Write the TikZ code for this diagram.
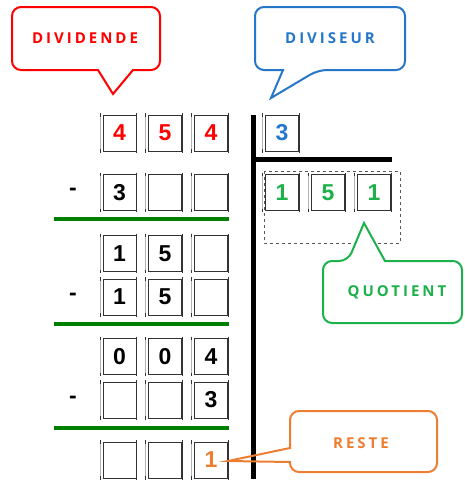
\documentclass[tikz,border=0pt]{standalone}
\usepackage{fontspec}
\setmainfont{Liberation Sans}
\newfontfamily\callfont[LetterSpace=20]{Open Sans}
\definecolor{cred}{HTML}{FF0000}
\definecolor{cblue}{HTML}{2677C9}
\definecolor{cgreen}{HTML}{1DB14B}
\definecolor{dgreen}{HTML}{008000}
\definecolor{corange}{HTML}{ED7D31}
\definecolor{boxgray}{HTML}{333333}
\tikzset{
  digitbox/.style={draw=boxgray,line width=0.9pt,minimum width=33pt,minimum height=36pt,inner sep=0pt,
    font=\fontsize{23}{23}\selectfont\bfseries,
    append after command={
      \pgfextra{\draw[gray!60,line width=0.8pt] ([xshift=-2.5pt]\tikzlastnode.north west) -- ([xshift=-2.5pt]\tikzlastnode.south west);
      \draw[boxgray,line width=0.9pt] ([xshift=-2.5pt,yshift=1.5pt]\tikzlastnode.north west) -- ([xshift=-2.5pt,yshift=-2pt]\tikzlastnode.north west);
      \draw[boxgray,line width=0.9pt] ([xshift=-2.5pt,yshift=2pt]\tikzlastnode.south west) -- ([xshift=-2.5pt,yshift=-1.5pt]\tikzlastnode.south west);
      \draw[boxgray,line width=0.9pt] ([yshift=1.5pt]\tikzlastnode.north east) -- ([yshift=-1.5pt]\tikzlastnode.south east);}
    }},
  minus/.style={font=\fontsize{23}{23}\selectfont\bfseries,inner sep=0pt},
  greenline/.style={dgreen,line width=4pt},
  divline/.style={black,line width=5pt},
  callout/.style={line width=2pt},
  calltext/.style={font=\callfont\bfseries\fontsize{15}{15}\selectfont,inner sep=0pt}
}
\begin{document}
\begin{tikzpicture}[x=1pt,y=-1pt]
\useasboundingbox (0,0) rectangle (464,480);
% callouts
\draw[callout,cred,fill=white,rounded corners=9] (12,7) -- (160,7) -- (160,70) [sharp corners]-- (133,70) -- (113,94) -- (98,70) [rounded corners=9]-- (12,70) -- cycle;
\node[calltext,text=cred] (tdividende) at (85,38) {DIVIDENDE};
\draw[callout,cblue,fill=white,rounded corners=9] (255,7) -- (405,7) -- (405,70) -- (318,70) [sharp corners]-- (271,98) -- (283,70) [rounded corners=9]-- (255,70) -- cycle;
\node[calltext,text=cblue] (tdiviseur) at (330,38) {DIVISEUR};
% division lines
\coordinate (vtop) at (253,115);
\coordinate (vbot) at (253,479);
\coordinate (hleft) at (250.5,159);
\coordinate (hright) at (392,159);
\draw[divline] (vtop) -- (vbot);
\draw[divline] (hleft) -- (hright);
% green lines
\coordinate (g1a) at (54,219); \coordinate (g1b) at (229,219);
\coordinate (g2a) at (54,324); \coordinate (g2b) at (229,324);
\coordinate (g3a) at (54,428); \coordinate (g3b) at (229,428);
\draw[greenline] (g1a) -- (g1b);
\draw[greenline] (g2a) -- (g2b);
\draw[greenline] (g3a) -- (g3b);
% rows
\node[digitbox,text=cred] (a1) at (119.5,133) {4};
\node[digitbox,text=cred] (a2) at (165,133) {5};
\node[digitbox,text=cred] (a3) at (211,133) {4};
\node[minus] (m1) at (73,192) {-};
\node[digitbox] (b1) at (119.5,192.5) {3};
\node[digitbox] (b2) at (165,192.5) {};
\node[digitbox] (b3) at (211,192.5) {};
\node[digitbox] (c1) at (119.5,253.5) {1};
\node[digitbox] (c2) at (165,253.5) {5};
\node[digitbox] (c3) at (211,253.5) {};
\node[minus] (m2) at (73,297) {-};
\node[digitbox] (d1) at (119.5,297) {1};
\node[digitbox] (d2) at (165,297) {5};
\node[digitbox] (d3) at (211,297) {};
\node[digitbox] (e1) at (119.5,356.5) {0};
\node[digitbox] (e2) at (165,356.5) {0};
\node[digitbox] (e3) at (211,356.5) {4};
\node[minus] (m3) at (73,400) {-};
\node[digitbox] (f1) at (119.5,400) {};
\node[digitbox] (f2) at (165,400) {};
\node[digitbox] (f3) at (211,400) {3};
\node[digitbox] (r1) at (119.5,460) {};
\node[digitbox] (r2) at (165,460) {};
\node[digitbox,text=corange] (r3) at (211,460) {1};
% divisor and quotient
\node[digitbox,text=cblue] (dv) at (282,133) {3};
\node[digitbox,text=cgreen] (q1) at (282,192.5) {1};
\node[digitbox,text=cgreen] (q2) at (328,192.5) {5};
\node[digitbox,text=cgreen] (q3) at (374,192.5) {1};
\draw[gray!70!black,dashed,line width=0.8pt] (264,171) rectangle (400,243);
% quotient callout
\draw[callout,cgreen,fill=white,rounded corners=9] (323,261) -- (348,261) [sharp corners]-- (364,223) -- (385,261) [rounded corners=9]-- (462,261) -- (462,323) -- (323,323) -- cycle;
\node[calltext,text=cgreen] (tquotient) at (397,292) {QUOTIENT};
% reste callout
\draw[callout,corange] (228,461) -- (290,448) [rounded corners=9]-- (290,411) -- (437,411) -- (437,472) -- (290,472) [sharp corners]-- (290,462) -- cycle;
\node[calltext,text=corange] (treste) at (361,443) {RESTE};
\end{tikzpicture}
\end{document}
